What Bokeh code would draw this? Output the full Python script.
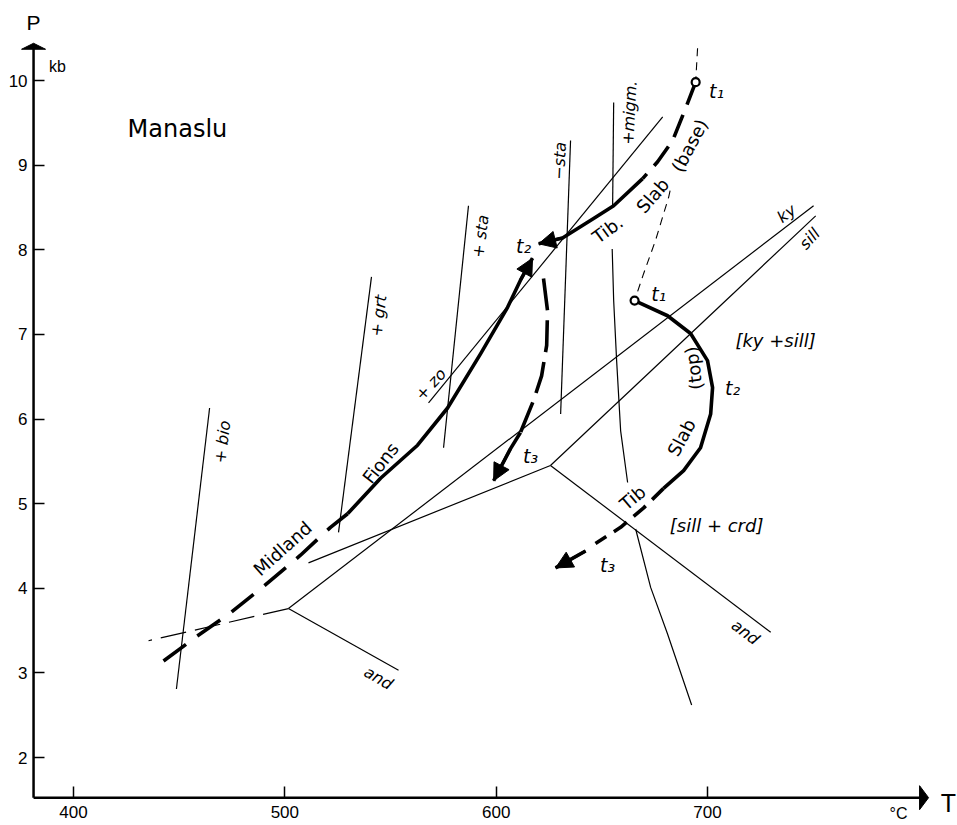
from bokeh.plotting import figure
from bokeh.models import Range1d, Arrow, NormalHead, ColumnDataSource
from bokeh.core.properties import value
from bokeh.embed import file_html
from bokeh.resources import INLINE

FONT = "DejaVu Sans"
TICK_FONT = "Liberation Sans"

# ---------------- axes ----------------
x_tick_values = [400, 500, 600, 700]
y_tick_values = [2, 3, 4, 5, 6, 7, 8, 9, 10]
T_AXIS = 381.1        # temperature where the P axis stands
P_AXIS = 1.525        # pressure where the T axis stands
T_AXIS_END = 804.6    # tip of the T arrow
P_AXIS_END = 10.44    # tip of the P arrow

# ---------------- reaction lines (T in degC, P in kb) ----------------
bio_T = [464.4, 448.7]
bio_P = [6.13, 2.81]
grt_T = [541.0, 525.4]
grt_P = [7.68, 4.66]
zo_T = [568.0, 678.8]
zo_P = [6.19, 9.57]
sta_plus_T = [586.9, 575.1]
sta_plus_P = [8.52, 5.66]
sta_minus_T = [635.2, 630.5]
sta_minus_P = [9.29, 6.06]
migm_a_T = [655.6, 655.1]
migm_a_P = [9.74, 8.50]
migm_b_T = [654.9, 655.6, 657.0, 658.9, 662.2]
migm_b_P = [8.01, 7.40, 6.69, 5.86, 5.25]
migm_c_T = [666.0, 673.1, 681.1, 692.5]
migm_c_P = [4.70, 4.01, 3.46, 2.62]

# aluminosilicate systems (two calibrations)
ky_a_T = [501.7, 750.2]
ky_a_P = [3.76, 8.52]
and_a_T = [501.7, 553.8]
and_a_P = [3.76, 3.03]
andky_a_T = [501.7, 435.5]
andky_a_P = [3.76, 3.38]
sill_b_T = [625.7, 751.2]
sill_b_P = [5.45, 8.40]
andsill_b_T = [625.7, 511.2]
andsill_b_P = [5.45, 4.30]
and_b_T = [625.7, 729.9]
and_b_P = [5.45, 3.48]

# ---------------- P-T paths ----------------
midland_dash_T = [442.6, 457.7, 474.3, 489.4, 507.4, 521.6, 529.7]
midland_dash_P = [3.14, 3.42, 3.71, 4.01, 4.39, 4.72, 4.88]
midland_solid_T = [529.7, 545.3, 562.8, 577.0, 592.6, 605.4, 611.5, 617.2]
midland_solid_P = [4.88, 5.30, 5.69, 6.13, 6.77, 7.32, 7.64, 7.90]

base_dash_T = [694.4, 689.6, 683.5, 676.4, 669.3]
base_dash_P = [9.98, 9.67, 9.29, 9.04, 8.84]
base_solid_T = [669.3, 655.6, 646.1, 631.4, 620.1]
base_solid_P = [8.84, 8.52, 8.37, 8.14, 8.07]

t2t3_dash_T = [622.4, 624.3, 623.9, 621.5, 617.7, 611.5]
t2t3_dash_P = [7.66, 7.28, 6.87, 6.51, 6.22, 5.84]
t2t3_solid_T = [611.5, 606.8, 598.8]
t2t3_solid_P = [5.84, 5.65, 5.27]

top_solid_T = [665.5, 681.1, 692.0, 700.0, 702.4, 701.5, 696.7, 688.7, 679.2]
top_solid_P = [7.40, 7.22, 7.01, 6.69, 6.37, 6.06, 5.66, 5.39, 5.18]
top_dash_T = [679.2, 669.8, 658.9, 647.0]
top_dash_P = [5.18, 4.95, 4.72, 4.53]
top_end_T = [642.3, 628.1]
top_end_P = [4.44, 4.24]

# thin dashed link between the two t1 points (hidden behind the "(base)" label)
link_top_T = [695.3, 694.4]
link_top_P = [10.38, 9.98]
link_low_T = [682.3, 681.6, 675.4, 669.8, 665.5]
link_low_P = [8.70, 8.62, 8.11, 7.72, 7.40]

t1_T = [694.4, 665.5]
t1_P = [9.98, 7.40]

# ---------------- labels ----------------
mineral_text = ["+ bio", "+ grt", "+ zo", "+ sta", "\u2212sta", "+migm.", "ky", "sill",
                "and", "and"]
mineral_T = [470.5, 544.3, 569.0, 592.6, 630.0, 663.1, 737.4, 748.3, 544.3, 718.0]
mineral_P = [5.73, 7.22, 6.41, 8.16, 9.05, 9.62, 8.43, 8.13, 2.94, 3.48]
mineral_angle = [83, 83, 47, 83, 87, 87, 37, 47, -30, -37]

bracket_text = ["[ky +sill]", "[sill + crd]"]
bracket_T = [732.2, 704.3]
bracket_P = [6.93, 4.74]

time_text = ["t\u2081", "t\u2081", "t\u2082", "t\u2082", "t\u2083", "t\u2083"]
time_T = [704.3, 676.9, 613.0, 711.9, 616.3, 652.7]
time_P = [9.88, 7.48, 8.04, 6.37, 5.56, 4.27]

path_text = ["Midland", "Fions", "Tib.", "Slab", "(base)", "Tib", "Slab", "(top)"]
path_T = [498.9, 545.3, 652.7, 674.0, 691.5, 664.6, 687.7, 693.4]
path_P = [4.47, 5.48, 8.24, 8.64, 9.23, 5.07, 5.78, 6.60]
path_angle = [42, 52, 36, 49, 62, 40, 62, 97]

title_text = "Manaslu"
title_T = 449.2
title_P = 9.43

axis_name_text = ["P", "kb", "T", "\u00b0C"]
axis_name_T = [381.1, 392.4, 814.0, 790.4]
axis_name_P = [10.69, 10.165, 1.465, 1.336]
axis_name_size = ["21px", "16px", "25px", "16px"]

# ---------------- figure ----------------
W, H = 957, 825
px_T = 300.0 / 634.0   # degC per screen pixel
px_P = 8.0 / 677.0     # kb per screen pixel
p = figure(width=W, height=H,
           x_range=Range1d(400 - 73 * px_T, 400 + (W - 73) * px_T),
           y_range=Range1d(10 - (H - 80) * px_P, 10 + 80 * px_P),
           output_backend="svg", toolbar_location=None, min_border=0)
p.outline_line_color = None
p.grid.visible = False
p.background_fill_color = "white"
p.border_fill_color = "white"

p.xaxis.fixed_location = P_AXIS
p.yaxis.fixed_location = T_AXIS
for ax in (p.xaxis[0], p.yaxis[0]):
    ax.axis_line_color = None
    ax.major_tick_in = 11
    ax.major_tick_out = 0
    ax.minor_tick_line_color = None
    ax.major_tick_line_width = 1.5
    ax.major_tick_line_color = "black"
    ax.major_label_text_font = TICK_FONT
    ax.major_label_text_font_size = "17px"
    ax.major_label_text_color = "black"
p.xaxis.ticker = x_tick_values
p.yaxis.ticker = y_tick_values
p.xaxis.major_label_standoff = 8
p.yaxis.major_label_standoff = 6

# axis lines with arrows
p.line([T_AXIS, T_AXIS_END - 6 * px_T], [P_AXIS, P_AXIS], line_color="black", line_width=2.5)
p.line([T_AXIS, T_AXIS], [P_AXIS, P_AXIS_END - 4 * px_P], line_color="black", line_width=2.5)
p.patch([T_AXIS - 12 * px_T, T_AXIS + 12 * px_T, T_AXIS],
        [P_AXIS_END - 6 * px_P, P_AXIS_END - 6 * px_P, P_AXIS_END], color="black")
p.patch([T_AXIS_END - 9 * px_T, T_AXIS_END - 9 * px_T, T_AXIS_END],
        [P_AXIS - 12 * px_P, P_AXIS + 12 * px_P, P_AXIS], color="black")

thin = dict(line_color="black", line_width=1.2)
for xs, ys in [(bio_T, bio_P), (grt_T, grt_P), (zo_T, zo_P), (sta_plus_T, sta_plus_P),
               (sta_minus_T, sta_minus_P), (migm_a_T, migm_a_P), (migm_b_T, migm_b_P),
               (migm_c_T, migm_c_P), (ky_a_T, ky_a_P), (and_a_T, and_a_P),
               (sill_b_T, sill_b_P), (andsill_b_T, andsill_b_P), (and_b_T, and_b_P)]:
    p.line(xs, ys, **thin)
p.line(andky_a_T, andky_a_P, line_dash="26 9", **thin)
p.line(link_top_T, link_top_P, line_color="black", line_width=1.1, line_dash="8 6")
p.line(link_low_T, link_low_P, line_color="black", line_width=1.1, line_dash="8 6")

thick = dict(line_color="black", line_width=3.6, line_cap="butt", line_join="round")
p.line(midland_dash_T, midland_dash_P, line_dash="28 14", **thick)
p.line(midland_solid_T, midland_solid_P, **thick)
p.line(base_dash_T, base_dash_P, line_dash="24 11", **thick)
p.line(base_solid_T, base_solid_P, **thick)
p.line(t2t3_dash_T, t2t3_dash_P, line_dash="32 10", **thick)
p.line(t2t3_solid_T, t2t3_solid_P, **thick)
p.line(top_solid_T, top_solid_P, **thick)
p.line(top_dash_T, top_dash_P, line_dash="16 9", **thick)
p.line(top_end_T, top_end_P, **thick)

for xs, ys in [(midland_solid_T, midland_solid_P), (base_solid_T, base_solid_P),
               (t2t3_solid_T, t2t3_solid_P), (top_end_T, top_end_P)]:
    p.add_layout(Arrow(end=NormalHead(size=17, fill_color="black", line_color="black"),
                       x_start=xs[-2], y_start=ys[-2], x_end=xs[-1], y_end=ys[-1],
                       line_color="black", line_width=3))

p.scatter(t1_T, t1_P, size=8, fill_color="white", line_color="black", line_width=2.2)

# texts
src_min = ColumnDataSource(dict(x=mineral_T, y=mineral_P, text=mineral_text, angle=mineral_angle))
p.text(x="x", y="y", text="text", angle="angle", angle_units="deg", source=src_min,
       text_font=value(FONT), text_font_size=value("16px"), text_font_style=value("italic"),
       text_align="center", text_baseline="middle", text_color="black")

src_br = ColumnDataSource(dict(x=bracket_T, y=bracket_P, text=bracket_text))
p.text(x="x", y="y", text="text", source=src_br,
       text_font=value(FONT), text_font_size=value("18px"), text_font_style=value("italic"),
       text_align="center", text_baseline="middle", text_color="black")

src_time = ColumnDataSource(dict(x=time_T, y=time_P, text=time_text))
p.text(x="x", y="y", text="text", source=src_time,
       text_font=value(FONT), text_font_size=value("19px"), text_font_style=value("italic"),
       text_align="center", text_baseline="middle", text_color="black")

src_path = ColumnDataSource(dict(x=path_T, y=path_P, text=path_text, angle=path_angle))
p.text(x="x", y="y", text="text", angle="angle", angle_units="deg", source=src_path,
       text_font=value(FONT), text_font_size=value("18px"),
       text_align="center", text_baseline="middle", text_color="black")

p.text(x=[title_T], y=[title_P], text=[title_text], text_font=value(FONT),
       text_font_size=value("24px"), text_align="center", text_baseline="middle",
       text_color="black")

src_ax = ColumnDataSource(dict(x=axis_name_T, y=axis_name_P, text=axis_name_text,
                               size=axis_name_size))
p.text(x="x", y="y", text="text", text_font_size="size", source=src_ax,
       text_font=value(TICK_FONT), text_align="center", text_baseline="middle",
       text_color="black")

open("out.html", "w").write(file_html(p, INLINE))
